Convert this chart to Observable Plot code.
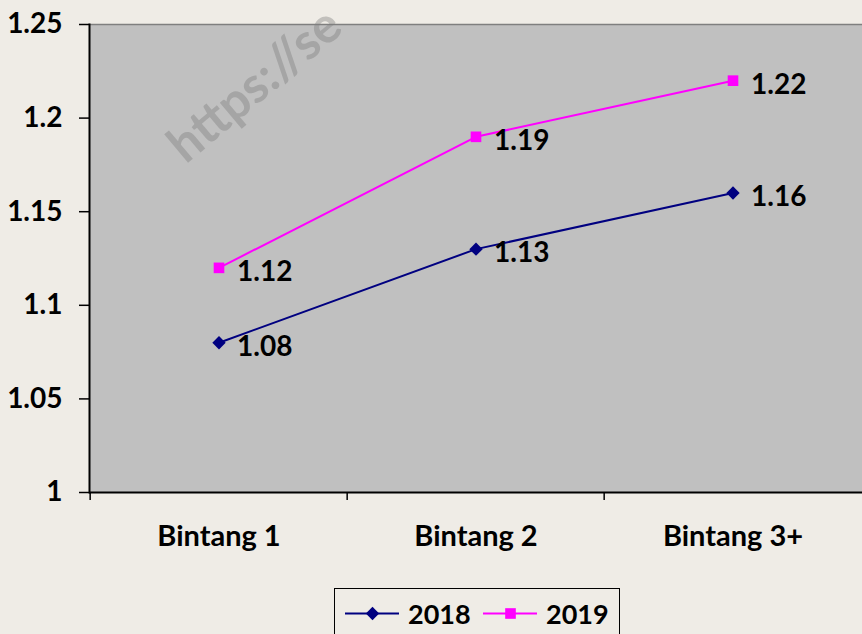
<!DOCTYPE html>
<html>
<head>
<meta charset="utf-8">
<script src="https://cdn.jsdelivr.net/npm/d3@7"></script>
<script src="https://cdn.jsdelivr.net/npm/@observablehq/plot@0.6"></script>
<style>
  html, body { margin: 0; padding: 0; background: #efece6; }
  #wrap { position: relative; width: 862px; height: 634px; overflow: hidden; font-family: Lato, sans-serif; font-weight: 700; }
  #legend { position: absolute; left: 334px; top: 588px; width: 286px; height: 60px; border: 1.5px solid #000; box-sizing: border-box; }
  #legend .item { position: absolute; top: 7px; height: 34px; display: flex; align-items: center; }
  #legend .lab { font-size: 27px; color: #000; margin-left: 9px; }
</style>
</head>
<body>
<div id="wrap">
  <div id="chart"></div>
  <div id="legend"></div>
</div>
<script>
const categories = ["Bintang 1", "Bintang 2", "Bintang 3+"];
const seriesNames = ["2018", "2019"];
const values2018 = [1.08, 1.13, 1.16];
const values2019 = [1.12, 1.19, 1.22];
const yTicks = [1, 1.05, 1.1, 1.15, 1.2, 1.25];
const seriesColors = ["#000080", "#ff00ff"];
const seriesSymbols = ["diamond2", "square"];
const watermark = ["https://se"];

const data = [
  ...categories.map((c, i) => ({cat: c, series: seriesNames[0], value: values2018[i]})),
  ...categories.map((c, i) => ({cat: c, series: seriesNames[1], value: values2019[i]}))
];

const W = 862, H = 588, ML = 89, MR = 0, MT = 24, MB = 96;
const bw = (W - ML - MR) / categories.length;

const chart = Plot.plot({
  width: W, height: H,
  marginLeft: ML, marginRight: MR, marginTop: MT, marginBottom: MB,
  style: {background: "transparent", fontFamily: "Lato, sans-serif", fontWeight: 700, fontSize: "28px", color: "#000"},
  x: {type: "band", domain: categories, padding: 0},
  y: {domain: [1, 1.25]},
  color: {domain: seriesNames, range: seriesColors},
  symbol: {domain: seriesNames, range: seriesSymbols},
  marks: [
    Plot.frame({fill: "#c0c0c0"}),
    Plot.text(watermark, {frameAnchor: "top-left", dx: 86, dy: 128, rotate: -40, textAnchor: "start", lineAnchor: "middle", fill: "#7a7a7a", fillOpacity: 0.38, fontSize: 50, fontWeight: 700}),
    Plot.ruleY([1.25], {stroke: "#7f7f7f", strokeWidth: 1.5}),
    Plot.ruleX(categories, {x: d => d, dx: -bw / 2, insetTop: H - MT - MB, insetBottom: -8, stroke: "#000", strokeWidth: 1.5}),
    Plot.ruleY([1], {stroke: "#000", strokeWidth: 2}),
    Plot.frame({anchor: "left", stroke: "#000", strokeWidth: 2}),
    Plot.axisY({ticks: yTicks, tickSize: 10, tickPadding: 17, tickFormat: d3.format("~g"), strokeWidth: 1.5, fontSize: 28, label: null}),
    Plot.axisX({tickSize: 0, tickPadding: 33, fontSize: 29, label: null}),
    Plot.line(data, {x: "cat", y: "value", z: "series", stroke: "series", strokeWidth: 2}),
    Plot.dot(data, {x: "cat", y: "value", symbol: "series", fill: "series", stroke: null, r: 6}),
    Plot.text(data, {x: "cat", y: "value", text: d => d3.format(".2f")(d.value), dx: 18, dy: 4, textAnchor: "start", fill: "#000", fontSize: 28, fontWeight: 700})
  ]
});
document.getElementById("chart").appendChild(chart);

// legend
const legend = document.getElementById("legend");
const lefts = [10, 148];
seriesNames.forEach((s, i) => {
  const item = document.createElement("div");
  item.className = "item";
  item.style.left = lefts[i] + "px";
  const sym = Plot.plot({
    width: 54, height: 34, margin: 0,
    x: {domain: [0, 1], axis: null}, y: {domain: [0, 1], axis: null},
    symbol: {domain: seriesNames, range: seriesSymbols},
    style: {background: "transparent"},
    marks: [
      Plot.ruleY([0.5], {stroke: seriesColors[i], strokeWidth: 2}),
      Plot.dot([{x: 0.5, y: 0.5, s}], {x: "x", y: "y", symbol: "s", fill: seriesColors[i], stroke: null, r: 6})
    ]
  });
  item.appendChild(sym);
  const lab = document.createElement("span");
  lab.className = "lab";
  lab.textContent = s;
  item.appendChild(lab);
  legend.appendChild(item);
});
</script>
</body>
</html>
